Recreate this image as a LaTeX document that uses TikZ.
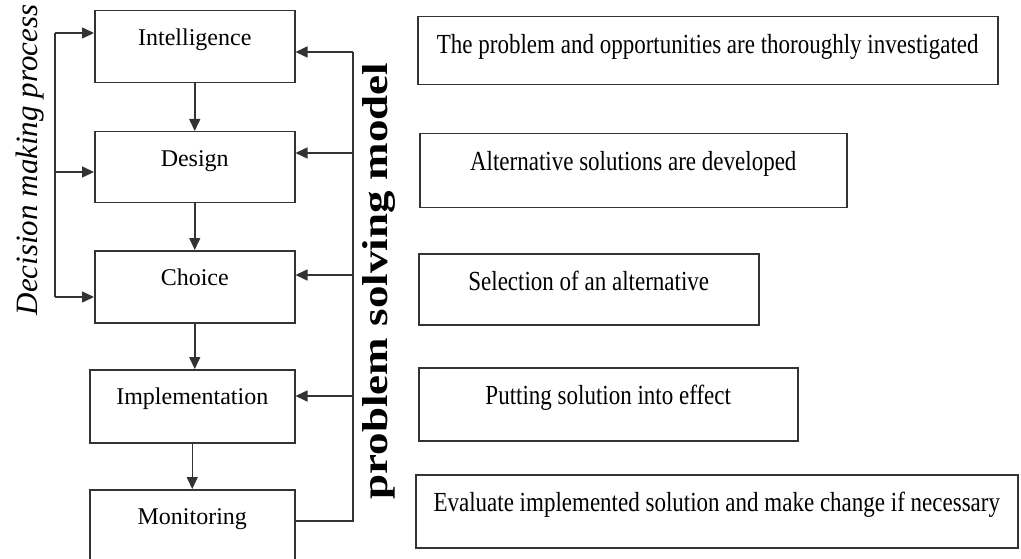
\documentclass[tikz,border=0pt]{standalone}
\usepackage{fontspec}
\setmainfont{Liberation Serif}[ItalicFont={Liberation Serif Italic},BoldFont={Liberation Serif Bold}]
\usetikzlibrary{arrows.meta}
\begin{document}
\begin{tikzpicture}[x=1pt,y=-1pt,
  box/.style={draw=black!80, line width=1.5pt, inner sep=0pt, anchor=north west, fill=white},
  lbox/.style={box, font=\fontsize{24}{24}\selectfont, text height=35pt},
  rbox/.style={box, font=\fontsize{23}{23}\selectfont, text height=37pt},
  conn/.style={draw=black!80, line width=1.5pt},
  arr/.style={conn, -{Triangle[length=12pt,width=11pt]}}
]
\useasboundingbox (0,0) rectangle (1021,559);
\clip (0,0) rectangle (1021,559);

% left column
\node[lbox, minimum width=200pt, text depth=37pt] (intel)  at (94,10)  {Intelligence};
\node[lbox, minimum width=200pt, text depth=36pt] (design) at (94,131) {Design};
\node[lbox, minimum width=200pt, text depth=37pt] (choice) at (94,250) {Choice};
\node[lbox, minimum width=205pt, text depth=38pt] (impl)   at (89,369) {Implementation};
\node[lbox, minimum width=205pt, text depth=38pt] (monit)  at (89,489) {Monitoring};

% right column
\node[rbox, minimum width=580pt, text depth=31pt] (b1) at (417,16)  {\scalebox{1}[1.2]{The problem and opportunities are thoroughly investigated}};
\node[rbox, minimum width=427pt, text depth=37pt] (b2) at (419,133) {\scalebox{1}[1.2]{Alternative solutions are developed}};
\node[rbox, minimum width=340pt, text depth=34pt] (b3) at (418,253) {\scalebox{1}[1.2]{Selection of an alternative}};
\node[rbox, minimum width=379pt, text depth=36pt] (b4) at (418,367) {\scalebox{1}[1.2]{Putting solution into effect}};
\node[rbox, minimum width=602pt, text depth=36pt] (b5) at (415,474) {\scalebox{1}[1.2]{Evaluate implemented solution and make change if necessary}};

% rotated labels
\node[rotate=90, font=\fontsize{31}{31}\selectfont\itshape] (dmp) at (30,160) {Decision making process};
\node[rotate=90, font=\fontsize{36}{36}\selectfont\bfseries] (psm) at (379,281) {\scalebox{1.25}[1]{problem solving model}};

% main flow
\draw[arr] (intel.south) -- (design.north);
\draw[arr] (design.south) -- (choice.north);
\draw[arr] (choice.south) -- (choice.south |- impl.north);
\draw[arr] (impl.south) -- (monit.north);

% left feedback
\coordinate (la) at (55,33);
\coordinate (lb) at (55,172);
\coordinate (lc) at (55,297);
\draw[conn] (la) -- (lc);
\draw[arr] (la) -- (la -| intel.west);
\draw[arr] (lb) -- (lb -| design.west);
\draw[arr] (lc) -- (lc -| choice.west);

% right feedback
\coordinate (ra) at (353,52);
\coordinate (rb) at (353,153);
\coordinate (rc) at (353,275);
\coordinate (rd) at (353,396);
\coordinate (re) at (353,521);
\draw[conn] (monit.east |- re) -- (re) -- (ra);
\draw[arr] (ra) -- (ra -| intel.east);
\draw[arr] (rb) -- (rb -| design.east);
\draw[arr] (rc) -- (rc -| choice.east);
\draw[arr] (rd) -- (rd -| impl.east);
\end{tikzpicture}
\end{document}
